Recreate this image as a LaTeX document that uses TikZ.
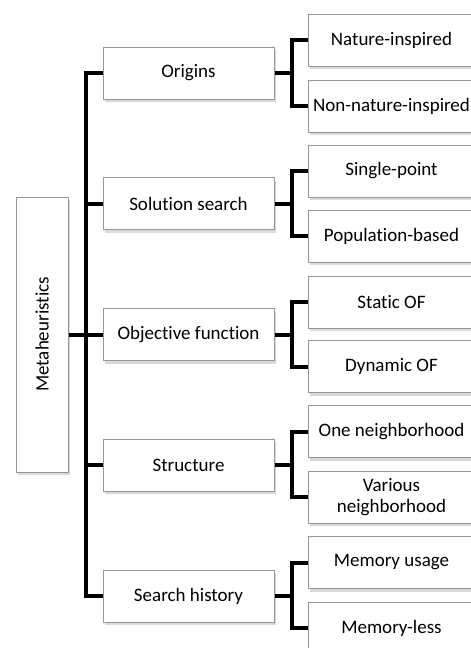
\documentclass[tikz,border=0pt]{standalone}
\usepackage{fontspec}
\setmainfont[Ligatures=NoCommon]{Carlito}
\usetikzlibrary{shadows}

\definecolor{boxline}{RGB}{150,150,150}

\begin{document}
\begin{tikzpicture}[x=1pt,y=-1pt,
	box/.style={draw=boxline,line width=1pt,fill=white,align=center,
		font=\fontsize{19}{20}\selectfont,inner sep=0pt,
		drop shadow={opacity=0.3,shadow xshift=2pt,shadow yshift=-3pt}},
	midbox/.style={box,minimum width=171pt,minimum height=52pt},
	leafbox/.style={box,minimum width=167pt,minimum height=52pt},
	link/.style={line width=4pt,line join=miter}]

\useasboundingbox (0,0) rectangle (471,648);

\node[box,minimum width=52pt,minimum height=275pt] (root) at (42,334.5) {};
\node[rotate=90,font=\fontsize{19}{20}\selectfont] (roottxt) at (root.center) {Metaheuristics};

\node[midbox] (orig) at (188.5,73) {Origins};
\node[midbox] (sol) at (188.5,203.75) {Solution search};
\node[midbox] (obj) at (188.5,334.5) {Objective function};
\node[midbox] (struc) at (188.5,465.25) {Structure};
\node[midbox] (hist) at (188.5,596) {Search history};

\node[leafbox] (nat) at (391.5,40) {Nature-inspired};
\node[leafbox] (nonnat) at (391.5,106) {Non-nature-inspired};
\node[leafbox] (single) at (391.5,171) {Single-point};
\node[leafbox] (pop) at (391.5,236) {Population-based};
\node[leafbox] (static) at (391.5,302) {Static OF};
\node[leafbox] (dyn) at (391.5,366.5) {Dynamic OF};
\node[leafbox] (oneN) at (391.5,431.5) {One neighborhood};
\node[leafbox] (varN) at (391.5,497) {Various\\[1pt]neighborhood};
\node[leafbox] (memuse) at (391.5,562.5) {Memory usage};
\node[leafbox] (memless) at (391.5,628) {Memory-less};

% trunk
\foreach \m in {orig,sol,obj,struc,hist}
	\draw[link] (root.east) -- ++(17,0) |- (\m.west);

% brackets
\foreach \m/\a/\b in {orig/nat/nonnat,sol/single/pop,obj/static/dyn,struc/oneN/varN,hist/memuse/memless}
	\draw[link] (\a.west) -| ([xshift=17pt]\m.east) |- (\b.west)
		([xshift=17pt]\m.east) -- (\m.east);

\end{tikzpicture}
\end{document}
